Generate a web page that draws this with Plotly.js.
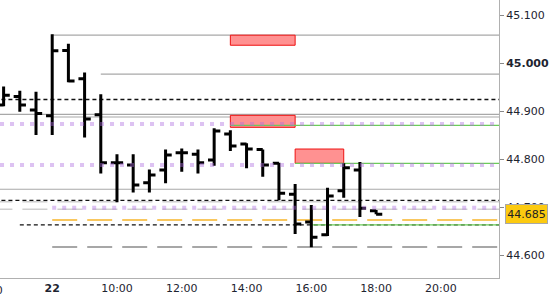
<!DOCTYPE html>
<html>
<head>
<meta charset="utf-8">
<script src="https://cdn.plot.ly/plotly-3.0.1.min.js"></script>
<style>
html,body{margin:0;padding:0;background:#fff;}
#chart{width:550px;height:300px;}
</style>
</head>
<body>
<div id="chart"></div>
<script>
// ---- data ----
const times = [6.5,7,7.5,8,8.5,9,9.5,10,10.5,11,11.5,12,12.5,13,13.5,14,14.5,15,15.5,16,16.5,17,17.5,18];
const opens = [44.9125,44.930,44.902,44.890,45.026,44.967,44.892,44.792,44.7875,44.7506,44.777,44.813,44.810,44.798,44.852,44.831,44.820,44.791,44.7265,44.669,44.642,44.734,44.777,44.692];
const highs = [44.951,44.942,44.940,45.060,45.040,44.980,44.935,44.810,44.810,44.778,44.820,44.822,44.820,44.864,44.860,44.833,44.820,44.792,44.748,44.704,44.740,44.791,44.794,44.694];
const lows  = [44.910,44.8985,44.850,44.850,44.960,44.845,44.770,44.710,44.730,44.730,44.7494,44.7735,44.770,44.786,44.8167,44.7806,44.763,44.714,44.6438,44.616,44.6396,44.7194,44.679,44.685];
const closes= [44.933,44.9125,44.895,45.0256,44.9625,44.8833,44.7923,44.7923,44.7458,44.7667,44.8083,44.813,44.7923,44.8583,44.8271,44.8208,44.7875,44.7285,44.6646,44.6369,44.723,44.7819,44.6973,44.685];

const lastPrice = 44.685;

// horizontal levels (price, start time)
const grayLevels   = [45.058, 44.977, 44.893, 44.8875, 44.737];
const grayStarts   = [8.0, 9.5, 6.0, 8.0, 6.0];
const blackDashLevels = [44.924, 44.714, 44.6627];
const blackDashStarts = [6.0, 6.0, 7.0];
const lightDashLevels = [44.711, 44.6952];
const lightDashStarts = [6.0, 6.0];
const purpleLevels = [44.873, 44.7875, 44.6986];
const purpleStarts = [6.08, 6.08, 8.0];
const orangeLevels = [44.673];
const orangeStarts = [8.0];
const darkDashLevels = [44.6167];
const darkDashStarts = [8.0];
const greenLevels = [44.870, 44.791, 44.6627];
const greenStarts = [13.5, 15.5, 16.0];

// zones
const zoneX0 = [13.5, 13.5, 15.5];
const zoneX1 = [15.5, 15.5, 17.0];
const zoneY0 = [45.037, 44.866, 44.791];
const zoneY1 = [45.058, 44.891, 44.8208];

// axis ticks
const yTicks = [44.6, 44.7, 44.8, 44.9, 45.0, 45.1];
const yTickText = ['44.600','44.700','44.800','44.900','<b>45.000</b>','45.100'];
const xTicks = [8, 10, 12, 14, 16, 18, 20];
const xTickText = ['<b>22</b>','10:00','12:00','14:00','16:00','18:00','20:00'];
const prevTick = 6;
const prevTickText = '20:00';

// ---- layout ----
const xr = [6.3884, 21.794];
const yr = [44.55208, 45.13125];
const xEnd = 23;

const shapes = [];
function hline(levels, starts, line, layer){
  levels.forEach((v,i)=>shapes.push({type:'line',xref:'x',yref:'y',x0:starts[i],x1:xEnd,y0:v,y1:v,line:line,layer:layer}));
}
hline(grayLevels, grayStarts, {color:'#a8a8a8',width:1.2}, 'below');
hline(lightDashLevels, lightDashStarts, {color:'#cfcfcf',width:1.5,dash:'25px,10px'}, 'below');
hline(orangeLevels, orangeStarts, {color:'#f7b52a',width:1.5,dash:'25px,10px'}, 'below');
hline(darkDashLevels, darkDashStarts, {color:'#8a8a8a',width:1.5,dash:'25px,10px'}, 'below');
hline(blackDashLevels, blackDashStarts, {color:'#111',width:1.3,dash:'4px,3px'}, 'below');
zoneX0.forEach((x0,i)=>shapes.push({type:'rect',xref:'x',yref:'y',x0:x0,x1:zoneX1[i],y0:zoneY0[i],y1:zoneY1[i],
  fillcolor:'#ff9191',line:{color:'#ee1111',width:1},layer:'below'}));
hline(greenLevels, greenStarts, {color:'#6ccc5a',width:1.3}, 'below');
hline(purpleLevels, purpleStarts, {color:'rgba(175,110,225,0.42)',width:4,dash:'4px,6px'}, 'above');

const font = {family:'DejaVu Sans, Verdana, sans-serif', size:11, color:'#1e2430'};

const layout = {
  width:550, height:300,
  margin:{l:0, r:51, t:0, b:22},
  paper_bgcolor:'#fff', plot_bgcolor:'#fff',
  showlegend:false,
  font:font,
  xaxis:{range:xr, type:'linear', showgrid:false, zeroline:false,
    showline:true, linecolor:'#b0b0b0', linewidth:1,
    tickmode:'array', tickvals:xTicks, ticktext:xTickText, ticks:'', tickfont:font,
    rangeslider:{visible:false}, fixedrange:true},
  yaxis:{range:yr, side:'right', showgrid:false, zeroline:false,
    showline:true, linecolor:'#b0b0b0', linewidth:1,
    tickmode:'array', tickvals:yTicks, ticktext:yTickText, ticks:'outside', ticklen:4, tickcolor:'#888',
    tickfont:font, fixedrange:true},
  shapes:shapes,
  annotations:[
    {xref:'paper', yref:'y', x:1, y:lastPrice, xanchor:'left', yanchor:'middle', xshift:6,
     text:lastPrice.toFixed(3), showarrow:false, font:{family:font.family,size:11,color:'#222'},
     bgcolor:'#fcca10', bordercolor:'#a8a8a8', borderwidth:1, borderpad:1, width:39, height:16},
    {xref:'paper', yref:'paper', x:(prevTick-xr[0])/(xr[1]-xr[0]), y:0, xanchor:'center', yanchor:'top', yshift:-4,
     text:prevTickText, showarrow:false, font:font}
  ]
};

const trace = {
  type:'ohlc', x:times, open:opens, high:highs, low:lows, close:closes,
  increasing:{line:{color:'#000',width:3}},
  decreasing:{line:{color:'#000',width:3}},
  tickwidth:0.38, hoverinfo:'skip'
};

Plotly.newPlot('chart',[trace],layout,{displayModeBar:false,staticPlot:true});
</script>
</body>
</html>
